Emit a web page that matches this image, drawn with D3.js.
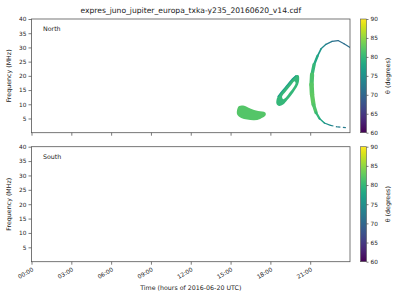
<!DOCTYPE html>
<html><head><meta charset="utf-8">
<script src="https://cdn.jsdelivr.net/npm/d3@7"></script>
<style>body{margin:0;background:#fff}svg{display:block}text{font-family:"DejaVu Sans",sans-serif;fill:#222}</style>
</head><body><svg id="c" width="400" height="300"></svg>
<script>
// ---- data ----
const title = "expres_juno_jupiter_europa_txka-y235_20160620_v14.cdf";
const xTickHours = [0,3,6,9,12,15,18,21];
const xTickLabels = ["00:00","03:00","06:00","09:00","12:00","15:00","18:00","21:00"];
const yTicks = [5,10,15,20,25,30,35,40];
const cTicks = [60,65,70,75,80,85,90];
const panels = ["North","South"];
// Blob near 15.5-17.6 h : [hour, MHz]
const blob1 = [[15.50,8.2],[15.65,9.4],[16.03,9.5],[16.48,8.5],[17.08,7.6],[17.61,7.1],[17.64,6.1],[17.23,4.85],[16.78,4.35],[16.25,4.65],[15.80,5.2],[15.50,6.4]];
const blob1Theta = 82;
// Ring near 18-20 h : outer boundary and hole [hour, MHz]
const ringOuter = [[18.47,11.7],[18.66,13.4],[19.04,15.5],[19.41,17.6],[19.71,19.2],[19.94,20.2],[20.13,20.1],[20.17,18.7],[20.09,17.0],[19.86,15.1],[19.56,13.1],[19.26,11.4],[18.96,9.9],[18.66,9.4],[18.47,10.1]];
const ringHole = [[18.88,12.7],[19.18,14.6],[19.52,16.5],[19.82,18.1],[19.90,17.5],[19.75,16.0],[19.48,14.3],[19.18,12.5],[18.96,11.8]];
const ringTheta = 80;
const ringEdge = [[18.55,12.6],[18.9,14.7],[19.3,16.9],[19.65,18.9],[19.95,20.1]];
const ringEdgeTheta = 77;
// Big arc from 21 h to 24 h : hour, MHz, theta, bandwidth (MHz)
const arcHour  = [24.00,23.55,23.10,22.65,22.19,21.82,21.56,21.29,21.14,21.10,21.14,21.25,21.44,21.70,22.07,22.53,23.05,23.80];
const arcFreq  = [29.96,31.26,32.41,32.13,31.08,29.51,27.06,23.91,20.41,16.91,13.41,9.91,7.11,5.01,3.43,2.56,2.03,1.75];
const arcTheta = [71,71,70.5,71.5,73,75,77,79,81,82,82.5,82.5,81,79,76,74,73,72];
const arcBand  = [0.4,0.4,0.45,0.45,0.45,0.5,0.7,1.0,1.4,1.6,1.6,1.4,1.0,0.6,0.45,0.4,0.4,0.4];
const arcDashedFrom = 15;

// ---- layout ----
const svg = d3.select("#c");
const L = 31.5, R = 350, cbL = 360.5, cbW = 6;
const panelY = [[19,132.7],[146.7,261.7]];
const x = d3.scaleLinear().domain([0,24]).range([L,R]);
const color = t => d3.interpolateViridis((t-60)/30);

svg.append("text").attr("x",(L+R)/2).attr("y",13).attr("text-anchor","middle")
  .style("font-size","7.6px").text(title);

const defs = svg.append("defs");
const grad = defs.append("linearGradient").attr("id","vir").attr("x1",0).attr("y1",1).attr("x2",0).attr("y2",0);
d3.range(0,1.0001,0.05).forEach(s=>grad.append("stop").attr("offset",s).attr("stop-color",d3.interpolateViridis(s)));

panels.forEach((name,i)=>{
  const [top,bot] = panelY[i];
  const y = d3.scaleLinear().domain([0,40]).range([bot,top]);
  const g = svg.append("g");
  const clipId = "clip"+i;
  defs.append("clipPath").attr("id",clipId).append("rect").attr("x",L).attr("y",top).attr("width",R-L).attr("height",bot-top);
  const plot = g.append("g").attr("clip-path",`url(#${clipId})`);

  if(i===0){
    const line = d3.line().x(d=>x(d[0])).y(d=>y(d[1])).curve(d3.curveCatmullRomClosed);
    plot.append("path").attr("d",line(blob1)).attr("fill",color(blob1Theta));
    plot.append("path").attr("d",line(ringOuter)+line(ringHole)).attr("fill-rule","evenodd").attr("fill",color(ringTheta));
    plot.append("path").attr("d",d3.line().x(d=>x(d[0])).y(d=>y(d[1])).curve(d3.curveCatmullRom)(ringEdge))
      .attr("fill","none").attr("stroke",color(ringEdgeTheta)).attr("stroke-width",1.2);
    const pxPerMHz = Math.abs(y(1)-y(0));
    for(let k=0;k<arcHour.length-1;k++){
      const t=(arcTheta[k]+arcTheta[k+1])/2, w=(arcBand[k]+arcBand[k+1])/2*pxPerMHz;
      const seg = plot.append("line")
        .attr("x1",x(arcHour[k])).attr("y1",y(arcFreq[k]))
        .attr("x2",x(arcHour[k+1])).attr("y2",y(arcFreq[k+1]))
        .attr("stroke",color(t)).attr("stroke-width",w);
      if(k>=arcDashedFrom) seg.attr("stroke-dasharray","3,2.5").attr("stroke-linecap","butt");
      else seg.attr("stroke-linecap","round");
    }
  }

  // axes
  const ya = g.append("g").attr("transform",`translate(${L},0)`)
    .call(d3.axisLeft(y).tickValues(yTicks).tickSize(3).tickPadding(2));
  const xa = g.append("g").attr("transform",`translate(0,${bot})`)
    .call(d3.axisBottom(x).tickValues(xTickHours).tickSize(3).tickFormat((d,j)=> i===1 ? xTickLabels[j] : ""));
  [ya,xa].forEach(a=>{a.select(".domain").remove(); a.selectAll("line").attr("stroke","#444").attr("stroke-width",0.7); a.selectAll("text").style("font-size","5.8px").attr("fill","#222");});
  if(i===1){
    xa.selectAll("text").attr("text-anchor","end").attr("dy",0).attr("y",0)
      .attr("transform","translate(2,9) rotate(-30)");
  }
  g.append("rect").attr("x",L).attr("y",top).attr("width",R-L).attr("height",bot-top)
    .attr("fill","none").attr("stroke","#555").attr("stroke-width",0.8);
  g.append("text").attr("x",43).attr("y",top+12).style("font-size","6.3px").text(name);
  g.append("text").attr("transform",`translate(11,${(top+bot)/2}) rotate(-90)`).attr("text-anchor","middle")
    .style("font-size","6.3px").text("Frequency (MHz)");

  // colorbar
  const cy = d3.scaleLinear().domain([60,90]).range([bot,top]);
  g.append("rect").attr("x",cbL).attr("y",top).attr("width",cbW).attr("height",bot-top).attr("fill","url(#vir)")
    .attr("stroke","#555").attr("stroke-width",0.6);
  const ca = g.append("g").attr("transform",`translate(${cbL+cbW},0)`)
    .call(d3.axisRight(cy).tickValues(cTicks).tickSize(2).tickPadding(2));
  ca.select(".domain").remove();
  ca.selectAll("line").attr("stroke","#444").attr("stroke-width",0.7);
  ca.selectAll("text").style("font-size","5.8px").attr("fill","#222");
  g.append("text").attr("transform",`translate(390,${(top+bot)/2}) rotate(-90)`).attr("text-anchor","middle")
    .style("font-size","6.3px").text("θ (degrees)");
});

svg.append("text").attr("x",(L+R)/2).attr("y",290).attr("text-anchor","middle")
  .style("font-size","6.3px").text("Time (hours of 2016-06-20 UTC)");
</script></body></html>
